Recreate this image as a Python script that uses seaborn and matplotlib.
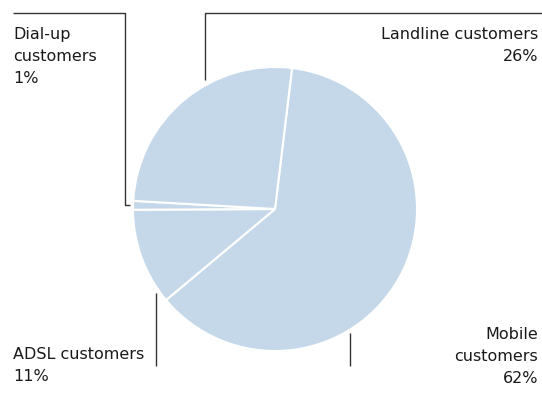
import matplotlib
matplotlib.use("Agg")
import matplotlib.pyplot as plt
import seaborn as sns

# Share of customers by connection type
categories = ["Mobile customers", "ADSL customers", "Dial-up customers", "Landline customers"]
shares = [62, 11, 1, 26]
labels = ["Mobile\ncustomers\n62%", "ADSL customers\n11%", "Dial-up\ncustomers\n1%", "Landline customers\n26%"]

sns.set_theme(style="white")
plt.rcParams["font.family"] = ["DejaVu Sans"]

W, H = 542, 393
fig = plt.figure(figsize=(W / 100, H / 100), dpi=100)
ax = fig.add_axes([0, 0, 1, 1])

fill = "#c5d8e9"
cx, cy, r = 275, H - 209, 142
ax.pie(shares, colors=[fill] * len(shares), startangle=83.1, counterclock=False,
       center=(cx, cy), radius=r, frame=True,
       wedgeprops=dict(edgecolor="white", linewidth=1.5))
ax.set_xlim(0, W)
ax.set_ylim(0, H)
ax.set_aspect("equal")
ax.axis("off")

line_kw = dict(color="#333333", linewidth=1.0, solid_capstyle="butt")

def y(v):
    return H - v

# leader lines
ax.plot([13, 125, 125, 130], [y(13), y(13), y(205), y(205)], **line_kw)   # dial-up
ax.plot([205, 205, 542], [y(80), y(13), y(13)], **line_kw)               # landline
ax.plot([156, 156], [y(293), y(366)], **line_kw)                          # ADSL
ax.plot([350, 350], [y(333), y(366)], **line_kw)                          # mobile

txt_kw = dict(fontsize=11.5, color="#1a1a1a", linespacing=1.58)
ax.text(13, y(27), labels[2], ha="left", va="top", **txt_kw)
ax.text(538, y(27), labels[3], ha="right", va="top", multialignment="right", **txt_kw)
ax.text(13, y(347), labels[1], ha="left", va="top", **txt_kw)
ax.text(538, y(327), labels[0], ha="right", va="top", multialignment="right", **txt_kw)

fig.savefig("out.png", dpi=100, facecolor="white")
